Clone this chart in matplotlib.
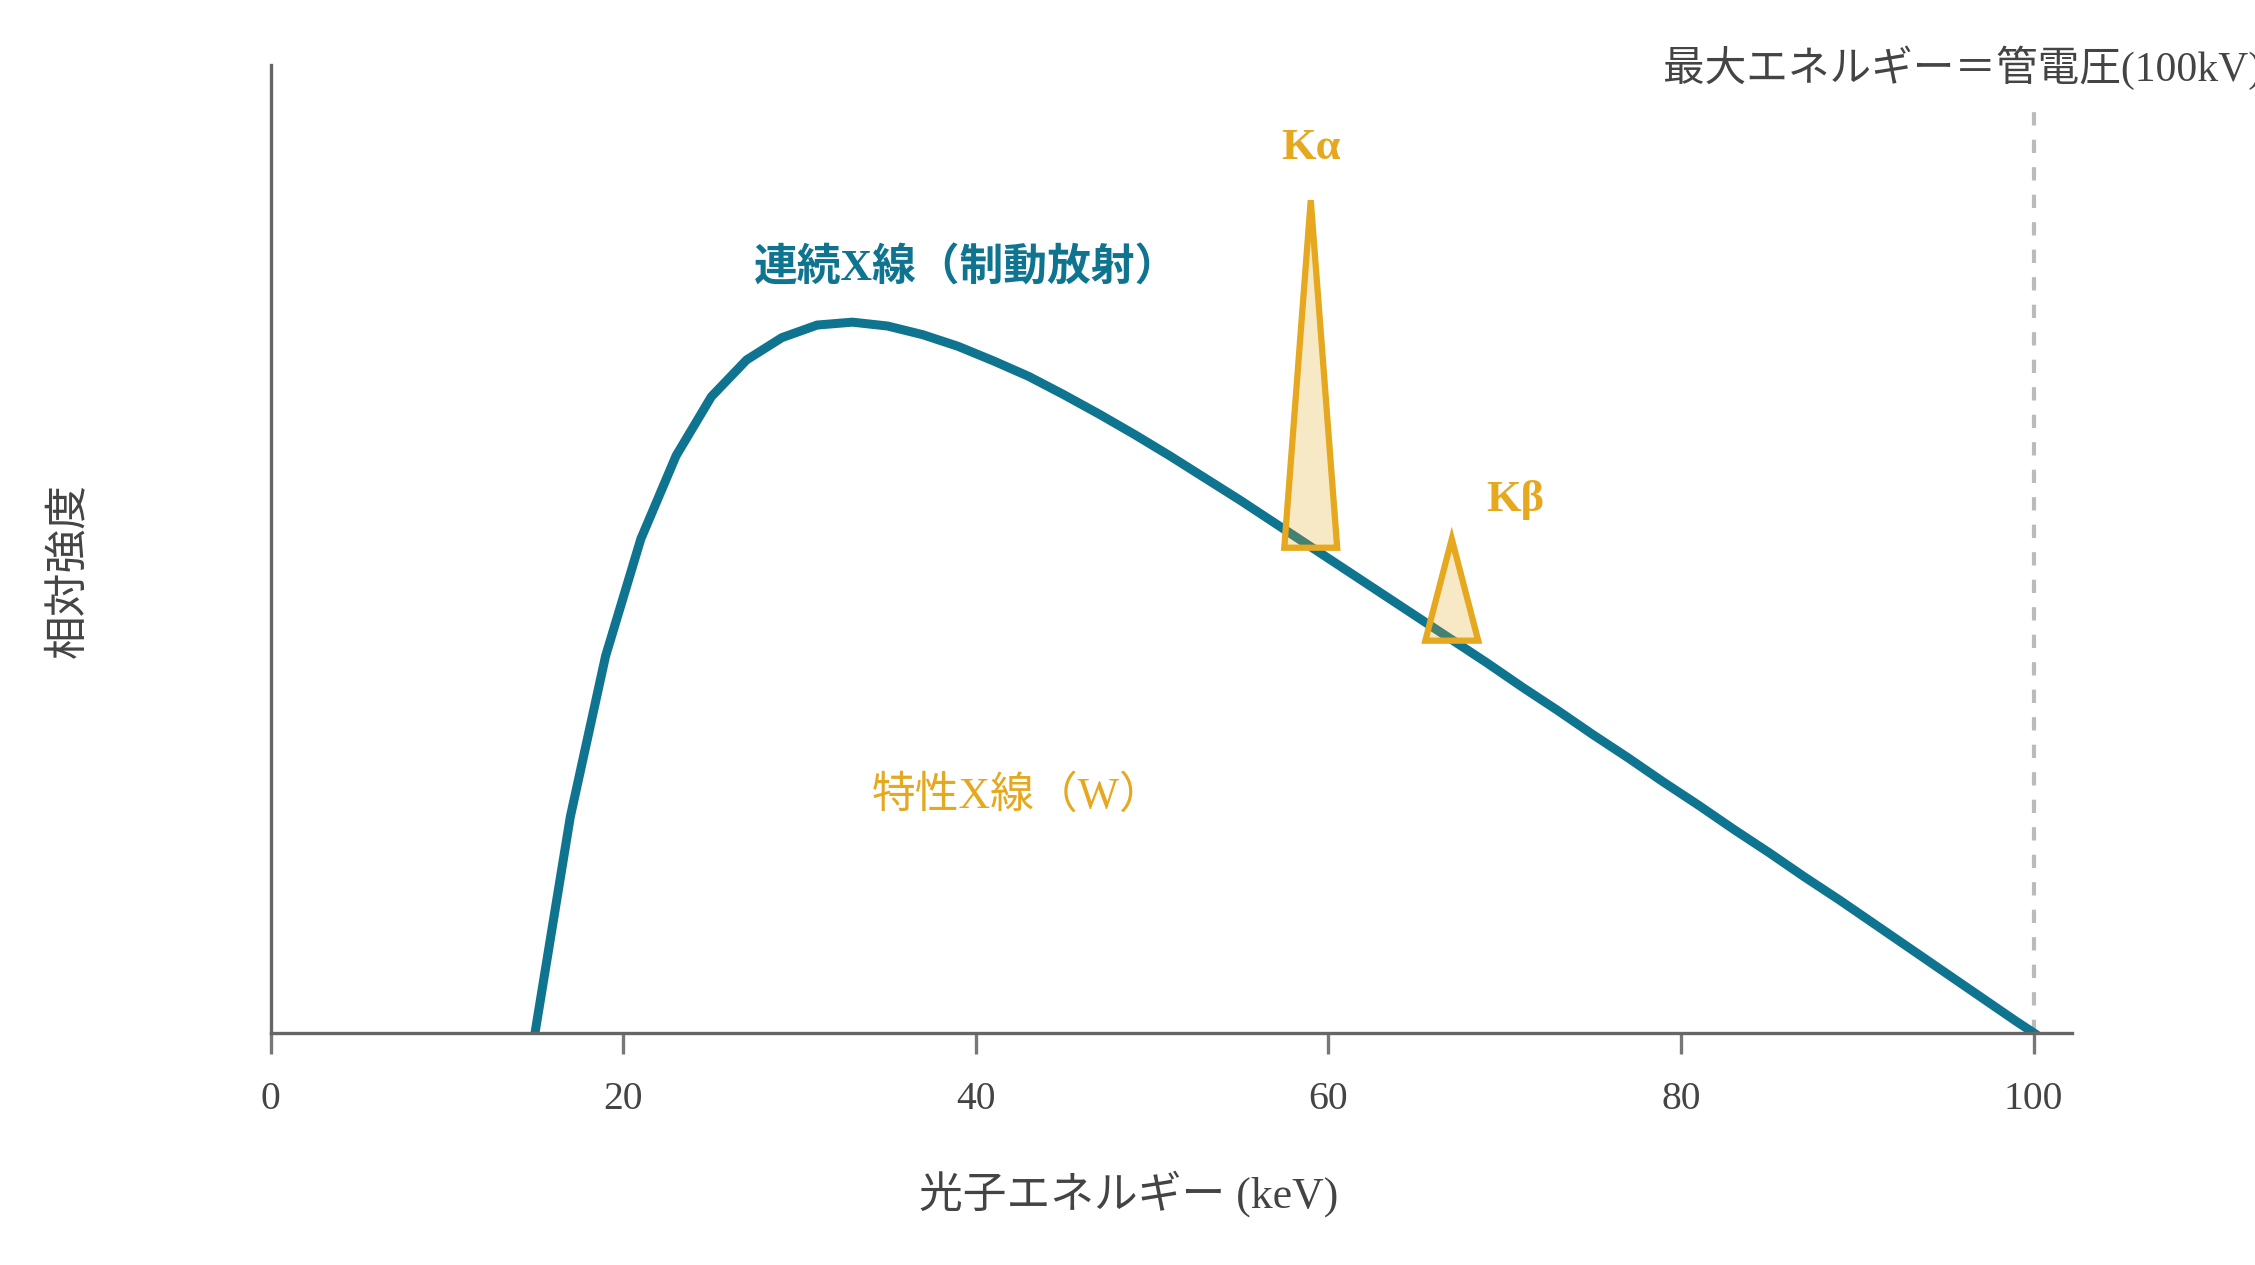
import matplotlib.pyplot as plt

plt.rcParams['font.family'] = ['Liberation Serif', 'Noto Sans CJK JP']

# continuous spectrum (bremsstrahlung)
energy = [15, 17, 19, 21, 23, 25, 27, 29, 31, 33, 35, 37, 39, 41, 43, 45, 47, 49,
          51, 53, 55, 57, 59, 61, 63, 65, 67, 69, 71, 73, 75, 77, 79, 81, 83, 85,
          87, 89, 91, 93, 95, 97, 99, 100]
intensity = [0.0, 0.223, 0.389, 0.510, 0.596, 0.657, 0.695, 0.718, 0.731, 0.734,
             0.730, 0.721, 0.709, 0.694, 0.678, 0.659, 0.639, 0.618, 0.596, 0.573,
             0.550, 0.526, 0.502, 0.478, 0.454, 0.430, 0.406, 0.382, 0.357, 0.333,
             0.308, 0.284, 0.259, 0.235, 0.210, 0.186, 0.161, 0.137, 0.112, 0.087,
             0.062, 0.037, 0.012, 0.0]

# characteristic lines of W
line_names = ['Kα', 'Kβ']
line_energy = [59.0, 67.0]
line_half_width = [1.5, 1.5]
line_base = [0.501, 0.405]
line_peak = [0.860, 0.510]

tube_kv = 100
xticks = [0, 20, 40, 60, 80, 100]

teal = '#0E7490'
gold = '#E5A81E'
gray = '#444444'

fig = plt.figure(figsize=(22.55, 12.65), dpi=100)
ax = fig.add_axes([0.120, 0.1836, 0.799, 0.7653])

ax.plot(energy, intensity, color=teal, lw=6.5, zorder=2)

for e, hw, b, p in zip(line_energy, line_half_width, line_base, line_peak):
    ax.fill([e - hw, e, e + hw], [b, p, b], facecolor=(0.898, 0.659, 0.118, 0.25),
            edgecolor=gold, lw=4.5, joinstyle='miter', zorder=3)

ax.plot([tube_kv, tube_kv], [0, 0.955], color='#BBBBBB', lw=3,
        linestyle=(0, (3.2, 3.4)), zorder=1)

# annotations
ax.text(39.5, 0.789, '連続X線（制動放射）', color=teal, fontsize=31.5, fontweight='bold',
        ha='center', va='center')
ax.text(42.4, 0.245, '特性X線（W）', color=gold, fontsize=31.5, ha='center', va='center')
ax.text(59.0, 0.914, line_names[0], color=gold, fontsize=32, fontweight='bold',
        ha='center', va='center')
ax.text(70.6, 0.550, line_names[1], color=gold, fontsize=32, fontweight='bold',
        ha='center', va='center')
ax.text(79.0, 0.997, '最大エネルギー＝管電圧(100kV)', color=gray, fontsize=30,
        ha='left', va='center', clip_on=False)

ax.set_xlim(0, 102.2)
ax.set_ylim(0, 1)
ax.set_xticks(xticks)
ax.set_yticks([])
ax.tick_params(axis='x', length=15, width=2.4, color='#777777', pad=20,
               labelsize=28.5, labelcolor=gray)

for s in ['top', 'right']:
    ax.spines[s].set_visible(False)
for s in ['left', 'bottom']:
    ax.spines[s].set_color('#666666')
    ax.spines[s].set_linewidth(2.4)

ax.set_xlabel('光子エネルギー (keV)', fontsize=31.5, color=gray, va='center')
ax.xaxis.set_label_coords(0.476, -0.1666)
ax.set_ylabel('相対強度', fontsize=31.5, color=gray, va='center')
ax.yaxis.set_label_coords(-0.112, 0.477)

fig.savefig('out.png', dpi=100)
